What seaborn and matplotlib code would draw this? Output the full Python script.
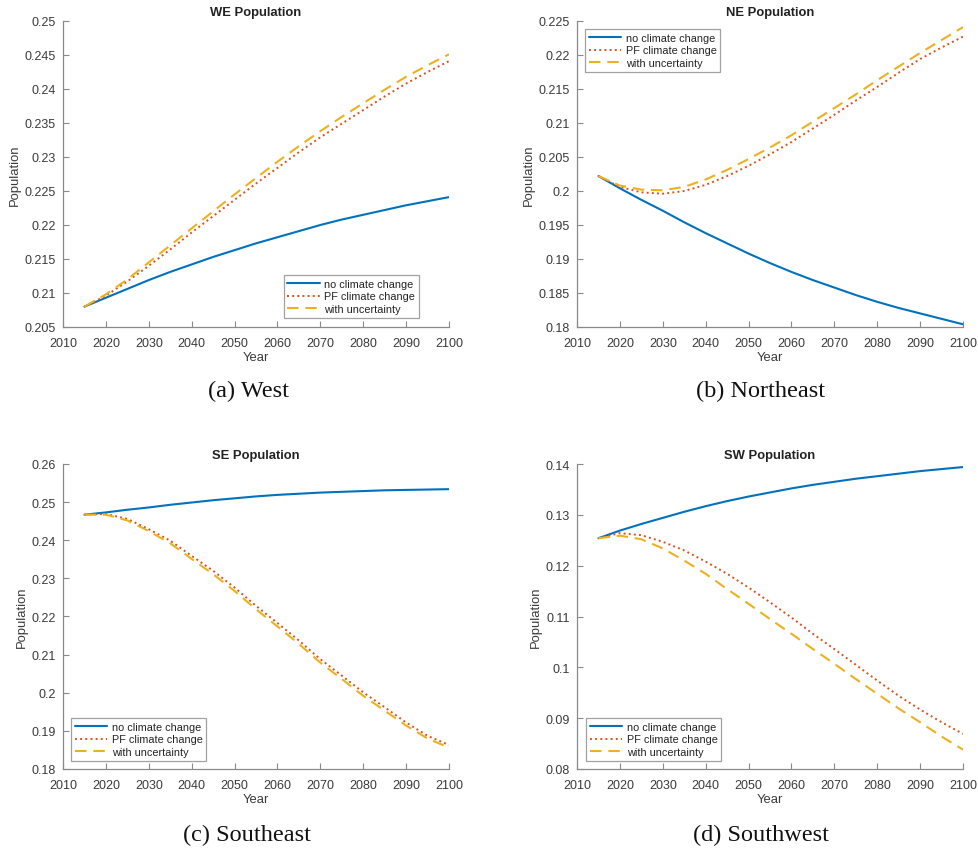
import numpy as np
import pandas as pd
import matplotlib
matplotlib.use("Agg")
import matplotlib.pyplot as plt
from matplotlib.ticker import FuncFormatter
import seaborn as sns

# ---------------------------------------------------------------- data
years = list(range(2015, 2101, 5))
series_names = ["no climate change", "PF climate change", "with uncertainty"]

we_no_cc = [0.2080, 0.2093, 0.2106, 0.2119, 0.2131, 0.2142, 0.2153, 0.2163, 0.2173,
            0.2182, 0.2191, 0.2200, 0.2208, 0.2215, 0.2222, 0.2229, 0.2235, 0.2241]
we_pf_cc = [0.2080, 0.2096, 0.2117, 0.2140, 0.2164, 0.2189, 0.2213, 0.2237, 0.2261,
            0.2284, 0.2307, 0.2329, 0.2349, 0.2369, 0.2389, 0.2408, 0.2425, 0.2441]
we_unc = [0.2080, 0.2098, 0.2120, 0.2145, 0.2170, 0.2195, 0.2220, 0.2245, 0.2269,
          0.2293, 0.2316, 0.2338, 0.2359, 0.2379, 0.2399, 0.2418, 0.2435, 0.2451]

ne_no_cc = [0.2022, 0.2004, 0.1987, 0.1971, 0.1954, 0.1938, 0.1923, 0.1908, 0.1894,
            0.1881, 0.1869, 0.1858, 0.1847, 0.1837, 0.1828, 0.1820, 0.1812, 0.1804]
ne_pf_cc = [0.2022, 0.2006, 0.1998, 0.1996, 0.2000, 0.2009, 0.2022, 0.2037, 0.2054,
            0.2072, 0.2092, 0.2112, 0.2133, 0.2153, 0.2174, 0.2194, 0.2211, 0.2227]
ne_unc = [0.2022, 0.2008, 0.2002, 0.2001, 0.2006, 0.2017, 0.2031, 0.2047, 0.2064,
          0.2082, 0.2102, 0.2122, 0.2142, 0.2163, 0.2183, 0.2203, 0.2222, 0.2241]

se_no_cc = [0.2467, 0.2473, 0.2480, 0.2486, 0.2493, 0.2499, 0.2505, 0.2510, 0.2515,
            0.2519, 0.2522, 0.2525, 0.2527, 0.2529, 0.2531, 0.2532, 0.2533, 0.2534]
se_pf_cc = [0.2467, 0.2469, 0.2456, 0.2429, 0.2399, 0.2359, 0.2320, 0.2276, 0.2228,
            0.2183, 0.2137, 0.2088, 0.2045, 0.2001, 0.1962, 0.1922, 0.1887, 0.1863]
se_unc = [0.2467, 0.2467, 0.2452, 0.2424, 0.2392, 0.2351, 0.2311, 0.2267, 0.2219,
          0.2174, 0.2128, 0.2079, 0.2036, 0.1992, 0.1953, 0.1914, 0.1880, 0.1856]

sw_no_cc = [0.1254, 0.1269, 0.1282, 0.1294, 0.1306, 0.1317, 0.1327, 0.1336, 0.1344,
            0.1352, 0.1359, 0.1365, 0.1371, 0.1376, 0.1381, 0.1386, 0.1390, 0.1394]
sw_pf_cc = [0.1254, 0.1264, 0.1260, 0.1247, 0.1230, 0.1208, 0.1184, 0.1157, 0.1128,
            0.1098, 0.1066, 0.1036, 0.1005, 0.0974, 0.0944, 0.0917, 0.0892, 0.0869]
sw_unc = [0.1254, 0.1259, 0.1252, 0.1234, 0.1210, 0.1184, 0.1154, 0.1125, 0.1095,
          0.1066, 0.1036, 0.1007, 0.0977, 0.0948, 0.0919, 0.0892, 0.0864, 0.0838]

panel_titles = ["WE Population", "NE Population", "SE Population", "SW Population"]
panel_captions = ["(a) West", "(b) Northeast", "(c) Southeast", "(d) Southwest"]
panel_series = [
    (we_no_cc, we_pf_cc, we_unc),
    (ne_no_cc, ne_pf_cc, ne_unc),
    (se_no_cc, se_pf_cc, se_unc),
    (sw_no_cc, sw_pf_cc, sw_unc),
]
panel_ylims = [(0.205, 0.25), (0.18, 0.225), (0.18, 0.26), (0.08, 0.14)]
panel_ysteps = [0.005, 0.005, 0.01, 0.01]
x_ticks = list(range(2010, 2101, 10))

# ---------------------------------------------------------------- style
sns.set_style("ticks")
plt.rcParams["font.family"] = ["Liberation Sans", "DejaVu Sans"]
text_col = "#3a3a3a"
axis_col = "#8a8a8a"
colors = ["#0072BD", "#D95319", "#EDB120"]
styles = [dict(linestyle="-", linewidth=1.5),
          dict(linestyle=":", linewidth=1.4),
          dict(linestyle=(0, (5.5, 3.3)), linewidth=1.5)]

fig = plt.figure(figsize=(9.79, 8.54), dpi=100)
W, H = 979, 854

# axes boxes in pixels: left, top, right, bottom
boxes = [(63, 22, 449, 328), (577, 22, 963, 328),
         (63, 465, 449, 770), (577, 465, 963, 770)]
legend_locs = [
    dict(loc="lower right", bbox_to_anchor=(1 - 30 / 386, 9 / 306)),
    dict(loc="upper left", bbox_to_anchor=(8 / 386, 1 - 8 / 306)),
    dict(loc="lower left", bbox_to_anchor=(8 / 386, 8 / 305)),
    dict(loc="lower left", bbox_to_anchor=(9 / 386, 8 / 305)),
]
caption_pos = [(248, 391), (761, 391), (247, 835), (761, 835)]


def fmt_g(v, pos):
    return ("%.3f" % v).rstrip("0").rstrip(".")


for i in range(4):
    l, t, r, b = boxes[i]
    ax = fig.add_axes([l / W, 1 - b / H, (r - l) / W, (b - t) / H])
    frame = pd.DataFrame({"Year": years})
    for name, vals, col, st in zip(series_names, panel_series[i], colors, styles):
        frame[name] = vals
        sns.lineplot(data=frame, x="Year", y=name, ax=ax, color=col,
                     label=name, **st)

    ax.set_xlim(2010, 2100)
    lo, hi = panel_ylims[i]
    ax.set_ylim(lo, hi)
    ax.set_xticks(x_ticks)
    ax.set_yticks(np.arange(lo, hi + panel_ysteps[i] / 2, panel_ysteps[i]))
    ax.yaxis.set_major_formatter(FuncFormatter(fmt_g))

    sns.despine(ax=ax)
    for side in ("left", "bottom"):
        ax.spines[side].set_color(axis_col)
        ax.spines[side].set_linewidth(0.9)
    ax.tick_params(direction="in", length=4, width=0.8, color=axis_col,
                   labelcolor=text_col, labelsize=9)
    ax.tick_params(axis="x", pad=7)
    ax.tick_params(axis="y", pad=5)

    ax.set_title(panel_titles[i], fontsize=9.4, fontweight="bold",
                 color="#222222", pad=4)
    ax.set_xlabel("Year", fontsize=9.4, color=text_col, labelpad=2)
    ax.set_ylabel("Population", fontsize=9.4, color=text_col, labelpad=3)

    leg = ax.legend(fontsize=7.8, frameon=True, fancybox=False,
                    handlelength=3.0, handletextpad=0.4, labelspacing=0.25,
                    borderpad=0.35, borderaxespad=0, **legend_locs[i])
    leg.get_frame().set_edgecolor("#8a8a8a")
    leg.get_frame().set_linewidth(0.9)
    for txt in leg.get_texts():
        txt.set_color("#222222")

    cx, cy = caption_pos[i]
    fig.text(cx / W, 1 - cy / H, panel_captions[i], ha="center", va="center",
             fontsize=17.5, family=["Liberation Serif", "DejaVu Serif"],
             color="#111111")

fig.savefig("out.png", dpi=100, facecolor="white")
